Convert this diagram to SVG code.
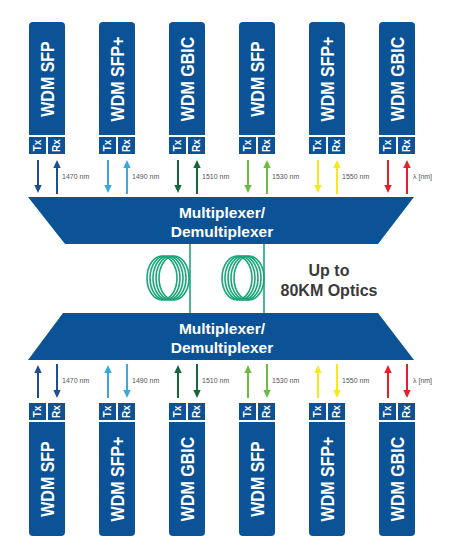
<svg xmlns="http://www.w3.org/2000/svg" width="450" height="551" viewBox="0 0 450 551">
<style>
.body{fill:#0b5396}
.name{font-family:"Liberation Sans",Arial,sans-serif;font-weight:bold;font-size:16px;fill:#fff;text-anchor:middle}
.port{font-family:"Liberation Sans",Arial,sans-serif;font-weight:bold;font-size:10px;fill:#fff;text-anchor:middle}
.mux{font-family:"Liberation Sans",Arial,sans-serif;font-weight:bold;font-size:15.5px;fill:#fff;text-anchor:middle}
.wl{font-family:"Liberation Sans",Arial,sans-serif;font-size:7px;fill:#555}
.big{font-family:"Liberation Sans",Arial,sans-serif;font-weight:bold;font-size:16px;fill:#3a3a3a;text-anchor:middle}
.a{stroke-width:2;fill:none}
.fiber{stroke:#1ba67a;stroke-width:1.6;fill:none}
</style>
<defs>
<marker id="m1" viewBox="0 0 8 8" markerWidth="8" markerHeight="8" refX="2" refY="4" orient="auto" markerUnits="userSpaceOnUse"><path d="M0,0.3 L8,4 L0,7.7z" fill="#1d4f8e"/></marker>
<marker id="m2" viewBox="0 0 8 8" markerWidth="8" markerHeight="8" refX="2" refY="4" orient="auto" markerUnits="userSpaceOnUse"><path d="M0,0.3 L8,4 L0,7.7z" fill="#3aa8df"/></marker>
<marker id="m3" viewBox="0 0 8 8" markerWidth="8" markerHeight="8" refX="2" refY="4" orient="auto" markerUnits="userSpaceOnUse"><path d="M0,0.3 L8,4 L0,7.7z" fill="#16683a"/></marker>
<marker id="m4" viewBox="0 0 8 8" markerWidth="8" markerHeight="8" refX="2" refY="4" orient="auto" markerUnits="userSpaceOnUse"><path d="M0,0.3 L8,4 L0,7.7z" fill="#6cbb45"/></marker>
<marker id="m5" viewBox="0 0 8 8" markerWidth="8" markerHeight="8" refX="2" refY="4" orient="auto" markerUnits="userSpaceOnUse"><path d="M0,0.3 L8,4 L0,7.7z" fill="#f5e81c"/></marker>
<marker id="m6" viewBox="0 0 8 8" markerWidth="8" markerHeight="8" refX="2" refY="4" orient="auto" markerUnits="userSpaceOnUse"><path d="M0,0.3 L8,4 L0,7.7z" fill="#e32129"/></marker>
<symbol id="topmod" overflow="visible">
<path class="body" d="M0,26 Q0,22 4,22 L32,22 Q36,22 36,26 L36,135 L0,135z"/>
<rect class="body" x="0" y="137" width="17" height="17"/>
<rect class="body" x="19" y="137" width="17" height="17"/>
<text class="port" transform="translate(8.5,145.5) rotate(-90)" y="3.6">Tx</text>
<text class="port" transform="translate(27.5,145.5) rotate(-90)" y="3.6">Rx</text>
</symbol>
<symbol id="botmod" overflow="visible">
<path class="body" d="M0,422 L36,422 L36,532 Q36,536 32,536 L4,536 Q0,536 0,532z"/>
<rect class="body" x="0" y="403" width="17" height="17"/>
<rect class="body" x="19" y="403" width="17" height="17"/>
<text class="port" transform="translate(8.5,411.5) rotate(-90)" y="3.6">Tx</text>
<text class="port" transform="translate(27.5,411.5) rotate(-90)" y="3.6">Rx</text>
</symbol>
</defs>
<rect width="450" height="551" fill="#fff"/>

<g id="top-sfp-1"><use href="#topmod" x="29"/><text class="name" transform="translate(47,79) rotate(-90) scale(1,1.2)" y="5.7">WDM SFP</text></g>
<g id="top-sfpplus-2"><use href="#topmod" x="99"/><text class="name" transform="translate(117,79) rotate(-90) scale(1,1.2)" y="5.7">WDM SFP+</text></g>
<g id="top-gbic-3"><use href="#topmod" x="169"/><text class="name" transform="translate(187,79) rotate(-90) scale(1,1.2)" y="5.7">WDM GBIC</text></g>
<g id="top-sfp-4"><use href="#topmod" x="239"/><text class="name" transform="translate(257,79) rotate(-90) scale(1,1.2)" y="5.7">WDM SFP</text></g>
<g id="top-sfpplus-5"><use href="#topmod" x="309"/><text class="name" transform="translate(327,79) rotate(-90) scale(1,1.2)" y="5.7">WDM SFP+</text></g>
<g id="top-gbic-6"><use href="#topmod" x="379"/><text class="name" transform="translate(397,79) rotate(-90) scale(1,1.2)" y="5.7">WDM GBIC</text></g>

<g id="mux-top">
<polygon class="body" points="28,197 414,197 378,244 65,244"/>
<text class="mux" x="222" y="217.5">Multiplexer/</text>
<text class="mux" x="222" y="236.5">Demultiplexer</text>
</g>

<g id="mux-bottom">
<polygon class="body" points="63,313 378,313 414,360 28,360"/>
<text class="mux" x="222" y="333.5">Multiplexer/</text>
<text class="mux" x="222" y="352.5">Demultiplexer</text>
</g>

<g id="fiber-spools">
<g class="fiber">
<ellipse cx="162" cy="278" rx="15" ry="22"/>
<ellipse cx="165" cy="278" rx="15" ry="22"/>
<ellipse cx="168" cy="278" rx="15" ry="22"/>
<ellipse cx="171" cy="278" rx="15" ry="22"/>
<ellipse cx="174" cy="278" rx="15" ry="22"/>
<ellipse cx="237" cy="278" rx="15" ry="22"/>
<ellipse cx="240" cy="278" rx="15" ry="22"/>
<ellipse cx="243" cy="278" rx="15" ry="22"/>
<ellipse cx="246" cy="278" rx="15" ry="22"/>
<ellipse cx="249" cy="278" rx="15" ry="22"/>
</g>
<text class="big" x="329" y="276">Up to</text>
<text class="big" x="329" y="296">80KM Optics</text>
</g>

<g id="connectors">
<line class="fiber" x1="190" y1="244" x2="190" y2="313"/>
<line class="fiber" x1="264" y1="244" x2="264" y2="313"/>

<line class="a" stroke="#1d4f8e" x1="38" y1="160" x2="38" y2="187" marker-end="url(#m1)"/>
<line class="a" stroke="#1d4f8e" x1="57" y1="194" x2="57" y2="166" marker-end="url(#m1)"/>
<line class="a" stroke="#3aa8df" x1="108" y1="160" x2="108" y2="187" marker-end="url(#m2)"/>
<line class="a" stroke="#3aa8df" x1="127" y1="194" x2="127" y2="166" marker-end="url(#m2)"/>
<line class="a" stroke="#16683a" x1="178" y1="160" x2="178" y2="187" marker-end="url(#m3)"/>
<line class="a" stroke="#16683a" x1="197" y1="194" x2="197" y2="166" marker-end="url(#m3)"/>
<line class="a" stroke="#6cbb45" x1="248" y1="160" x2="248" y2="187" marker-end="url(#m4)"/>
<line class="a" stroke="#6cbb45" x1="267" y1="194" x2="267" y2="166" marker-end="url(#m4)"/>
<line class="a" stroke="#f5e81c" x1="318" y1="160" x2="318" y2="187" marker-end="url(#m5)"/>
<line class="a" stroke="#f5e81c" x1="337" y1="194" x2="337" y2="166" marker-end="url(#m5)"/>
<line class="a" stroke="#e32129" x1="388" y1="160" x2="388" y2="187" marker-end="url(#m6)"/>
<line class="a" stroke="#e32129" x1="407" y1="194" x2="407" y2="166" marker-end="url(#m6)"/>

<line class="a" stroke="#1d4f8e" x1="38" y1="398" x2="38" y2="371" marker-end="url(#m1)"/>
<line class="a" stroke="#1d4f8e" x1="57" y1="364" x2="57" y2="392" marker-end="url(#m1)"/>
<line class="a" stroke="#3aa8df" x1="108" y1="398" x2="108" y2="371" marker-end="url(#m2)"/>
<line class="a" stroke="#3aa8df" x1="127" y1="364" x2="127" y2="392" marker-end="url(#m2)"/>
<line class="a" stroke="#16683a" x1="178" y1="398" x2="178" y2="371" marker-end="url(#m3)"/>
<line class="a" stroke="#16683a" x1="197" y1="364" x2="197" y2="392" marker-end="url(#m3)"/>
<line class="a" stroke="#6cbb45" x1="248" y1="398" x2="248" y2="371" marker-end="url(#m4)"/>
<line class="a" stroke="#6cbb45" x1="267" y1="364" x2="267" y2="392" marker-end="url(#m4)"/>
<line class="a" stroke="#f5e81c" x1="318" y1="398" x2="318" y2="371" marker-end="url(#m5)"/>
<line class="a" stroke="#f5e81c" x1="337" y1="364" x2="337" y2="392" marker-end="url(#m5)"/>
<line class="a" stroke="#e32129" x1="388" y1="398" x2="388" y2="371" marker-end="url(#m6)"/>
<line class="a" stroke="#e32129" x1="407" y1="364" x2="407" y2="392" marker-end="url(#m6)"/>

<text class="wl" x="62" y="178.5">1470 nm</text>
<text class="wl" x="132" y="178.5">1490 nm</text>
<text class="wl" x="202" y="178.5">1510 nm</text>
<text class="wl" x="272" y="178.5">1530 nm</text>
<text class="wl" x="342" y="178.5">1550 nm</text>
<text class="wl" x="413" y="178.5">λ [nm]</text>

<text class="wl" x="62" y="383">1470 nm</text>
<text class="wl" x="132" y="383">1490 nm</text>
<text class="wl" x="202" y="383">1510 nm</text>
<text class="wl" x="272" y="383">1530 nm</text>
<text class="wl" x="342" y="383">1550 nm</text>
<text class="wl" x="413" y="383">λ [nm]</text>
</g>

<g id="bot-sfp-1"><use href="#botmod" x="29"/><text class="name" transform="translate(47,479) rotate(-90) scale(1,1.2)" y="5.7">WDM SFP</text></g>
<g id="bot-sfpplus-2"><use href="#botmod" x="99"/><text class="name" transform="translate(117,479) rotate(-90) scale(1,1.2)" y="5.7">WDM SFP+</text></g>
<g id="bot-gbic-3"><use href="#botmod" x="169"/><text class="name" transform="translate(187,479) rotate(-90) scale(1,1.2)" y="5.7">WDM GBIC</text></g>
<g id="bot-sfp-4"><use href="#botmod" x="239"/><text class="name" transform="translate(257,479) rotate(-90) scale(1,1.2)" y="5.7">WDM SFP</text></g>
<g id="bot-sfpplus-5"><use href="#botmod" x="309"/><text class="name" transform="translate(327,479) rotate(-90) scale(1,1.2)" y="5.7">WDM SFP+</text></g>
<g id="bot-gbic-6"><use href="#botmod" x="379"/><text class="name" transform="translate(397,479) rotate(-90) scale(1,1.2)" y="5.7">WDM GBIC</text></g>
</svg>
